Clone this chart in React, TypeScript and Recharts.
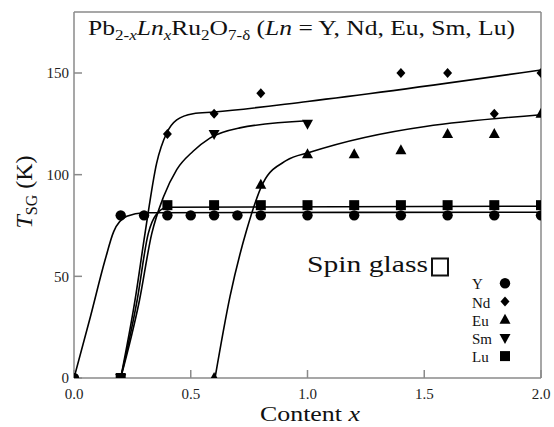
import React from 'react';
import { ComposedChart, XAxis, YAxis, Line, Scatter, ReferenceLine } from 'recharts';

// Measured data
const yX = [0, 0.2, 0.3, 0.4, 0.5, 0.6, 0.7, 0.8, 1.0, 1.2, 1.4, 1.6, 1.8, 2.0];
const yT = [0, 80, 80, 80, 80, 80, 80, 80, 80, 80, 80, 80, 80, 80];
const ndX = [0.2, 0.4, 0.6, 0.8, 1.4, 1.6, 1.8, 2.0];
const ndT = [0, 120, 130, 140, 150, 150, 130, 150];
const euX = [0.6, 0.8, 1.0, 1.2, 1.4, 1.6, 1.8, 2.0];
const euT = [0, 95, 110, 110, 112, 120, 120, 130];
const smX = [0.2, 0.6, 1.0];
const smT = [0, 120, 125];
const luX = [0.2, 0.4, 0.6, 0.8, 1.0, 1.2, 1.4, 1.6, 1.8, 2.0];
const luT = [0, 85, 85, 85, 85, 85, 85, 85, 85, 85];

// Fitted guide curves
const yFitX = [0, 0.07, 0.133, 0.17, 0.226, 0.3, 2.0];
const yFitT = [0, 30, 58, 72, 79.5, 81.3, 81.5];
const luFitX = [0.2, 0.27, 0.318, 0.35, 0.4, 2.0];
const luFitT = [0, 38, 71, 80, 84, 84.5];
const ndFitX = [0.2, 0.261, 0.304, 0.354, 0.397, 0.44, 0.51, 0.6, 1.0, 2.0];
const ndFitT = [0, 38, 71, 105.7, 120.5, 127, 130, 130.8, 136, 151.5];
const smFitX = [0.2, 0.28, 0.333, 0.383, 0.44, 0.51, 0.582, 0.71, 1.0];
const smFitT = [0, 38, 71, 89, 102.5, 111.5, 118, 123, 126.5];
const euFitX = [0.604, 0.668, 0.74, 0.81, 0.91, 1.01, 2.0];
const euFitT = [0, 40, 73, 96, 107, 111, 129.5];

const xTicks = [0, 0.5, 1.0, 1.5, 2.0];
const yTicks = [0, 50, 100, 150];

const pts = (xs: number[], ys: number[]) => xs.map((x, i) => ({ x, y: ys[i] }));

const AX = '#8a8a8a';
const FONT = '"Liberation Serif", "Times New Roman", Times, serif';

const CircleS = (p: any) => <circle cx={p.cx} cy={p.cy} r={5.2} fill="#000" />;
const DiamondS = (p: any) => (
  <polygon points={`${p.cx},${p.cy - 5} ${p.cx + 4.5},${p.cy} ${p.cx},${p.cy + 5} ${p.cx - 4.5},${p.cy}`} fill="#000" />
);
const TriUpS = (p: any) => (
  <polygon points={`${p.cx},${p.cy - 6} ${p.cx + 5.5},${p.cy + 4} ${p.cx - 5.5},${p.cy + 4}`} fill="#000" />
);
const TriDownS = (p: any) => (
  <polygon points={`${p.cx - 5.5},${p.cy - 4} ${p.cx + 5.5},${p.cy - 4} ${p.cx},${p.cy + 6}`} fill="#000" />
);
const SquareS = (p: any) => <rect x={p.cx - 5} y={p.cy - 5} width={10} height={10} fill="#000" />;

const lineProps = {
  type: 'monotone' as const,
  dataKey: 'y',
  stroke: '#000',
  strokeWidth: 1.6,
  dot: false,
  activeDot: false,
  isAnimationActive: false,
  legendType: 'none' as const,
};

const legendRows = [
  { label: 'Y', Shape: CircleS },
  { label: 'Nd', Shape: DiamondS },
  { label: 'Eu', Shape: TriUpS },
  { label: 'Sm', Shape: TriDownS },
  { label: 'Lu', Shape: SquareS },
];

const tickStyle = { fill: '#222', fontSize: 15, fontFamily: FONT };

export default function App() {
  return (
    <div
      style={{ position: 'absolute', left: 0, top: 0, width: 554, height: 427, background: '#fff', fontFamily: FONT }}
    >
      <ComposedChart
        width={554}
        height={427}
        margin={{ top: 12, right: 13, left: 0, bottom: 0 }}
        style={{ fontFamily: FONT }}
      >
        <XAxis
          dataKey="x"
          type="number"
          domain={[0, 2]}
          ticks={xTicks}
          tickFormatter={(v: number) => v.toFixed(1)}
          height={49}
          stroke={AX}
          strokeWidth={1.5}
          tickSize={-8}
          tickMargin={18}
          tick={tickStyle}
          allowDataOverflow
        />
        <YAxis
          dataKey="y"
          type="number"
          domain={[0, 180]}
          ticks={yTicks}
          width={74}
          stroke={AX}
          strokeWidth={1.5}
          tickSize={-8}
          tickMargin={13}
          tick={tickStyle}
          allowDataOverflow
        />
        <ReferenceLine x={2} stroke={AX} strokeWidth={1.5} />
        <ReferenceLine y={180} stroke={AX} strokeWidth={1.5} />
        <Line {...lineProps} data={pts(yFitX, yFitT)} />
        <Line {...lineProps} data={pts(luFitX, luFitT)} />
        <Line {...lineProps} data={pts(ndFitX, ndFitT)} />
        <Line {...lineProps} data={pts(smFitX, smFitT)} />
        <Line {...lineProps} data={pts(euFitX, euFitT)} />
        <Scatter data={pts(yX, yT)} dataKey="y" shape={CircleS} isAnimationActive={false} />
        <Scatter data={pts(ndX, ndT)} dataKey="y" shape={DiamondS} isAnimationActive={false} />
        <Scatter data={pts(euX, euT)} dataKey="y" shape={TriUpS} isAnimationActive={false} />
        <Scatter data={pts(smX, smT)} dataKey="y" shape={TriDownS} isAnimationActive={false} />
        <Scatter data={pts(luX, luT)} dataKey="y" shape={SquareS} isAnimationActive={false} />
      </ComposedChart>
      <svg
        width={554}
        height={427}
        style={{ position: 'absolute', left: 0, top: 0, pointerEvents: 'none', fontFamily: FONT }}
      >
        <text x={88} y={35} fontSize={21} fill="#111" textLength={427} lengthAdjust="spacingAndGlyphs">
          Pb
          <tspan dy={5} fontSize={14}>2-<tspan fontStyle="italic">x</tspan></tspan>
          <tspan dy={-5} fontStyle="italic">Ln</tspan>
          <tspan dy={5} fontSize={14} fontStyle="italic">x</tspan>
          <tspan dy={-5}>Ru</tspan>
          <tspan dy={5} fontSize={14}>2</tspan>
          <tspan dy={-5}>O</tspan>
          <tspan dy={5} fontSize={14}>7-δ</tspan>
          <tspan dy={-5}>{' ('}</tspan>
          <tspan fontStyle="italic">Ln</tspan>
          <tspan>{' = Y, Nd, Eu, Sm, Lu)'}</tspan>
        </text>
        <text x={307} y={272} fontSize={24} fill="#111" textLength={121} lengthAdjust="spacingAndGlyphs">
          Spin glass
        </text>
        <rect x={432} y={258.5} width={16} height={17} fill="none" stroke="#111" strokeWidth={2} />
        <text x={260} y={421} fontSize={22} fill="#111" textLength={100} lengthAdjust="spacingAndGlyphs">
          {'Content '}
          <tspan fontStyle="italic">x</tspan>
        </text>
        <text
          x={0}
          y={0}
          fontSize={24}
          fill="#111"
          textAnchor="middle"
          transform="translate(32,192) rotate(-90)"
        >
          <tspan fontStyle="italic">T</tspan>
          <tspan dy={5} fontSize={16}>SG</tspan>
          <tspan dy={-5}>{' (K)'}</tspan>
        </text>
        {legendRows.map((r, i) => {
          const cy = 283.3 + i * 18.2;
          const S = r.Shape;
          return (
            <g key={r.label}>
              <text x={472} y={cy + 6} fontSize={15} fill="#111">
                {r.label}
              </text>
              <S cx={505} cy={cy} />
            </g>
          );
        })}
      </svg>
    </div>
  );
}
